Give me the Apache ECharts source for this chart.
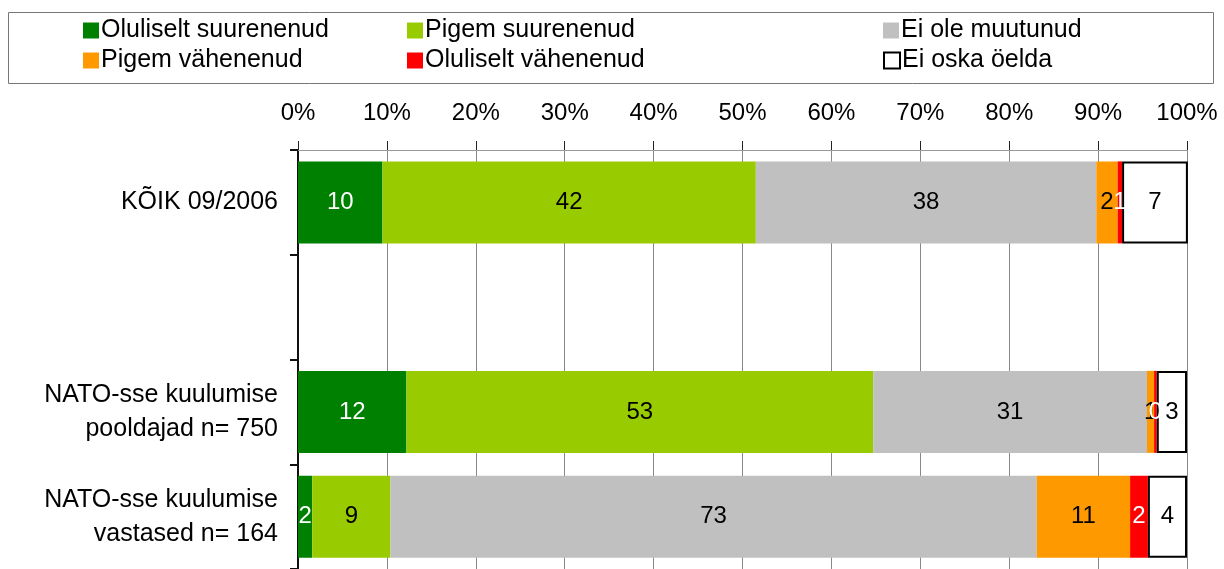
<!DOCTYPE html>
<html>
<head>
<meta charset="utf-8">
<script src="https://cdn.jsdelivr.net/npm/echarts@6/dist/echarts.min.js"></script>
<style>
  html, body { margin: 0; padding: 0; background: #fff; }
  #chart { width: 1224px; height: 569px; }
</style>
</head>
<body>
<div id="chart"></div>
<script>
const categories = ['KÕIK 09/2006', '', 'NATO-sse kuulumise\npooldajad n= 750', 'NATO-sse kuulumise\nvastased n= 164']
const seriesNames = ['Oluliselt suurenenud', 'Pigem suurenenud', 'Ei ole muutunud', 'Pigem vähenenud', 'Oluliselt vähenenud', 'Ei oska öelda']
const olulSuur = [9.5, null, 12.2, 1.6]
const pigemSuur = [42.0, null, 52.5, 8.8]
const eiMuutunud = [38.3, null, 30.8, 72.7]
const pigemVah = [2.4, null, 0.8, 10.5]
const olulVah = [0.5, null, 0.3, 2.0]
const eiOska = [7.4, null, 3.4, 4.4]
const xTicks = ['0%', '10%', '20%', '30%', '40%', '50%', '60%', '70%', '80%', '90%', '100%']

const colors = ['#008000', '#99cc00', '#c0c0c0', '#ff9900', '#ff0000', '#ffffff']
const labelColors = ['#fff', '#000', '#000', '#000', '#fff', '#000']
const values = [olulSuur, pigemSuur, eiMuutunud, pigemVah, olulVah, eiOska]
const font = '"Liberation Sans", Arial, sans-serif'

const chart = echarts.init(document.getElementById('chart'))

// legend positions: 3 columns, 2 rows
const legendPos = [[83, 18], [407, 18], [883, 18], [83, 48], [407, 48], [883, 48]]

const option = {
  animation: false,
  textStyle: { fontFamily: font },
  graphic: [{
    type: 'rect',
    shape: { x: 8.5, y: 12.5, width: 1205, height: 71 },
    style: { fill: 'none', stroke: '#777', lineWidth: 1 }
  }],
  legend: seriesNames.map((name, i) => ({
    data: [name],
    left: legendPos[i][0],
    top: legendPos[i][1],
    itemWidth: 16,
    itemHeight: 16,
    icon: 'rect',
    padding: 0,
    textStyle: { fontSize: 25, color: '#000', fontFamily: font, padding: [0, 0, 0, -3] }
  })),
  grid: { left: 298, right: 37, top: 150, bottom: -3 },
  xAxis: {
    type: 'value',
    position: 'top',
    min: 0,
    max: 100,
    interval: 10,
    axisLine: { show: true, lineStyle: { color: '#999', width: 1 } },
    axisTick: { show: true, length: 9, lineStyle: { color: '#222' } },
    splitLine: { show: true, lineStyle: { color: '#888', width: 1 } },
    axisLabel: {
      margin: 25,
      fontSize: 24,
      color: '#000',
      formatter: v => xTicks[Math.round(v / 10)]
    }
  },
  yAxis: {
    type: 'category',
    inverse: true,
    data: categories,
    axisLine: { show: true, lineStyle: { color: '#111', width: 2 } },
    axisTick: { show: true, length: 8, lineStyle: { color: '#111', width: 2 } },
    axisLabel: { margin: 20, fontSize: 25, color: '#000', lineHeight: 34, align: 'right' }
  },
  series: seriesNames.map((name, i) => ({
    name,
    type: 'bar',
    stack: 'total',
    barWidth: 82,
    data: values[i],
    itemStyle: i === 5
      ? { color: colors[i], borderColor: '#000', borderWidth: 2 }
      : { color: colors[i] },
    label: {
      show: true,
      position: 'inside',
      fontSize: 24,
      color: labelColors[i],
      formatter: p => (p.value == null ? '' : Math.round(p.value))
    }
  }))
}

chart.setOption(option)
</script>
</body>
</html>
